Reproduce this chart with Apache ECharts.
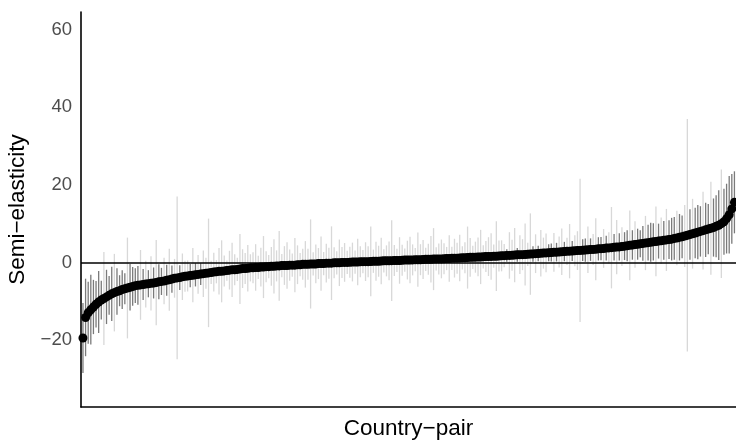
<!DOCTYPE html>
<html>
<head>
<meta charset="utf-8">
<script src="https://cdn.jsdelivr.net/npm/echarts@6/dist/echarts.min.js"></script>
<style>html,body{margin:0;padding:0;background:#fff}#c{width:736px;height:441px}</style>
</head>
<body>
<div id="c"></div>
<script>
// Point estimates (semi-elasticity), sorted, one per country-pair
var estimates = [
  -19.5,-14.2,-13.0,-12.2,-11.5,
  -10.8,-10.2,-9.7,-9.3,-8.9,
  -8.5,-8.1,-7.8,-7.5,-7.3,
  -7.0,-6.8,-6.6,-6.4,-6.2,
  -6.0,-5.9,-5.8,-5.7,-5.6,-5.5,-5.4,-5.3,-5.2,-5.0,
  -4.9,-4.8,-4.6,-4.5,-4.3,-4.1,-4.0,-3.9,-3.7,-3.6,
  -3.5,-3.4,-3.3,-3.2,-3.1,-3.0,-2.9,-2.8,-2.7,-2.6,
  -2.5,-2.4,-2.3,-2.3,-2.2,-2.1,-2.0,-1.9,-1.9,-1.8,-1.7,-1.6,-1.6,-1.5,-1.4,
  -1.4,-1.3,-1.3,-1.2,-1.2,-1.1,-1.1,-1.0,-1.0,-0.9,-0.9,-0.8,-0.8,-0.8,-0.7,-0.7,-0.7,
  -0.6,-0.6,-0.5,-0.5,-0.5,-0.4,-0.4,-0.4,-0.3,-0.3,-0.3,-0.2,-0.2,-0.2,-0.1,-0.1,-0.1,0.0,0.0,0.0,
  0.05,0.1,0.1,0.1,0.15,0.2,0.2,0.2,0.25,0.3,0.3,0.3,0.35,0.4,0.4,0.4,0.45,0.5,0.5,0.5,
  0.55,0.6,0.6,0.6,0.65,0.7,0.7,0.7,0.75,0.8,0.8,0.8,0.85,0.9,0.9,0.9,0.95,1.0,1.0,
  1.05,1.1,1.1,1.15,1.2,1.2,1.25,1.3,1.3,1.35,1.4,1.4,1.45,1.5,1.5,1.55,1.6,1.6,1.65,
  1.7,1.75,1.8,1.8,1.85,1.9,1.95,2.0,2.0,2.05,2.1,2.15,2.2,2.25,2.3,2.35,2.4,2.45,2.5,
  2.55,2.6,2.65,2.7,2.75,2.8,2.85,2.9,2.95,3.0,3.05,3.1,3.15,3.2,3.25,3.3,3.35,3.4,3.5,
  3.55,3.6,3.7,3.75,3.8,3.9,3.95,4.0,4.1,4.2,4.3,4.4,4.5,4.6,4.7,4.8,
  4.9,5.0,5.1,5.2,5.3,5.4,5.5,5.6,5.7,5.8,5.9,6.0,
  6.2,6.3,6.5,6.6,6.8,7.0,7.2,7.4,7.6,
  7.8,8.0,8.2,8.4,8.6,8.8,9.0,
  9.3,9.6,10.0,10.5,11.3,12.3,13.8,15.5
];
// Half-width of each confidence interval
var halfWidths = [
  9,10,8,9,7,
  6,8,5,12,7,
  5,7,10,6,4,
  5,4,13,6,5,
  4.5,5,9,4,6,3.5,7,4,11,4.5,
  3.5,6,4,8,3.5,5,21,3.2,6,4,
  4,3,7,3.0,5,2.8,6,4,14,3,
  5,3,6,8,4,2.6,5,7,4,3,9,5,4,6,3.5,
  4,6,3,5,8,4,3,5,7,4,9,3,5,6,4,3,7,
  5,3,4,6,4,11.5,3,5,4,7,3,5,4,9.5,4,3,6,4,5,3,
  4,5,3,6,4,3,5,4,9,3,5,4,6,3,4,5,10.4,4,3,6,
  4,3,5,6,4,3,7,4,5,3,4,6,8,3,4,5,4,3,6,
  3,5,4,6,3,4,8,5,3,4,5,7,3,4,5,6,3,9,4,
  4,3,1.6,6,4,7,1.8,5,4,8,3,10.5,2,5,2.0,6,4,5,2.2,
  2.3,5,2.4,4,6,2.5,3.5,7,2.6,4,5,18.5,2.8,3,6,2.9,4,8,3,
  3,5,3.2,4,10.5,3.4,7,3.5,5,3.6,4,9,3.8,6,4,3.5,
  4.5,7,4.6,5,4.8,9,4.5,6,5,8,5,5.5,
  5.5,7,6,5.5,8,30,6.5,9,6.5,
  7,6.5,10,7,6.5,12,7.5,
  8,9,14,8.5,9,10,9,8
];
var yTickValues = [-20, 0, 20, 40, 60];

var n = estimates.length;
var pts = [], bars = [];
for (var i = 0; i < n; i++) {
  var lo = estimates[i] - halfWidths[i], hi = estimates[i] + halfWidths[i];
  var sig = (lo > 0 || hi < 0) ? 1 : 0;
  bars.push([i + 1, lo, hi, sig]);
  pts.push([i + 1, estimates[i]]);
}

var chart = echarts.init(document.getElementById('c'), null, {renderer: 'canvas'});
var FONT = '"Liberation Sans", Arial, Helvetica, sans-serif';
chart.setOption({
  animation: false,
  backgroundColor: '#ffffff',
  grid: {left: 81, right: 0, top: 12, bottom: 34, containLabel: false, outerBoundsMode: 'none'},
  xAxis: {
    type: 'value', min: 0.25, max: n + 0.6,
    name: 'Country\u2212pair', nameLocation: 'middle', nameGap: 10,
    nameTextStyle: {color: '#000', fontSize: 22.5, fontFamily: FONT},
    axisLine: {show: true, onZero: false, lineStyle: {color: '#000', width: 1.6}},
    axisTick: {show: false}, axisLabel: {show: false}, splitLine: {show: false}
  },
  yAxis: {
    type: 'value', min: -37.3, max: 64.6, splitNumber: 5,
    name: 'Semi\u2212elasticity', nameLocation: 'middle', nameGap: 47, nameRotate: 90,
    nameTextStyle: {color: '#000', fontSize: 22.5, fontFamily: FONT},
    axisLine: {show: true, lineStyle: {color: '#000', width: 1.6}},
    axisTick: {show: false}, splitLine: {show: false},
    axisLabel: {
      color: '#4d4d4d', fontSize: 18.5, fontFamily: FONT, margin: 9,
      formatter: function (v) {
        for (var k = 0; k < yTickValues.length; k++) {
          if (Math.abs(v - yTickValues[k]) < 1e-6) return String(yTickValues[k]).replace('-', '\u2212');
        }
        return '';
      }
    }
  },
  series: [
    {
      type: 'custom', data: bars, z: 1,
      encode: {x: 0, y: [1, 2]},
      renderItem: function (params, api) {
        var a = api.coord([api.value(0), api.value(1)]);
        var b = api.coord([api.value(0), api.value(2)]);
        var x = a[0];
        return {
          type: 'line',
          shape: {x1: x, y1: a[1], x2: x, y2: b[1]},
          style: {stroke: api.value(3) ? '#7a7a7a' : '#d8d8d8', lineWidth: 1.3}
        };
      }
    },
    {
      type: 'scatter', data: [], z: 3, silent: true,
      markLine: {
        silent: true, symbol: 'none', label: {show: false},
        lineStyle: {color: '#000', width: 1.6, type: 'solid'},
        data: [{yAxis: 0}]
      }
    },
    {
      type: 'scatter', data: pts, z: 4, symbol: 'circle', symbolSize: 9,
      itemStyle: {color: '#000', opacity: 1}
    }
  ]
});
</script>
</body>
</html>
